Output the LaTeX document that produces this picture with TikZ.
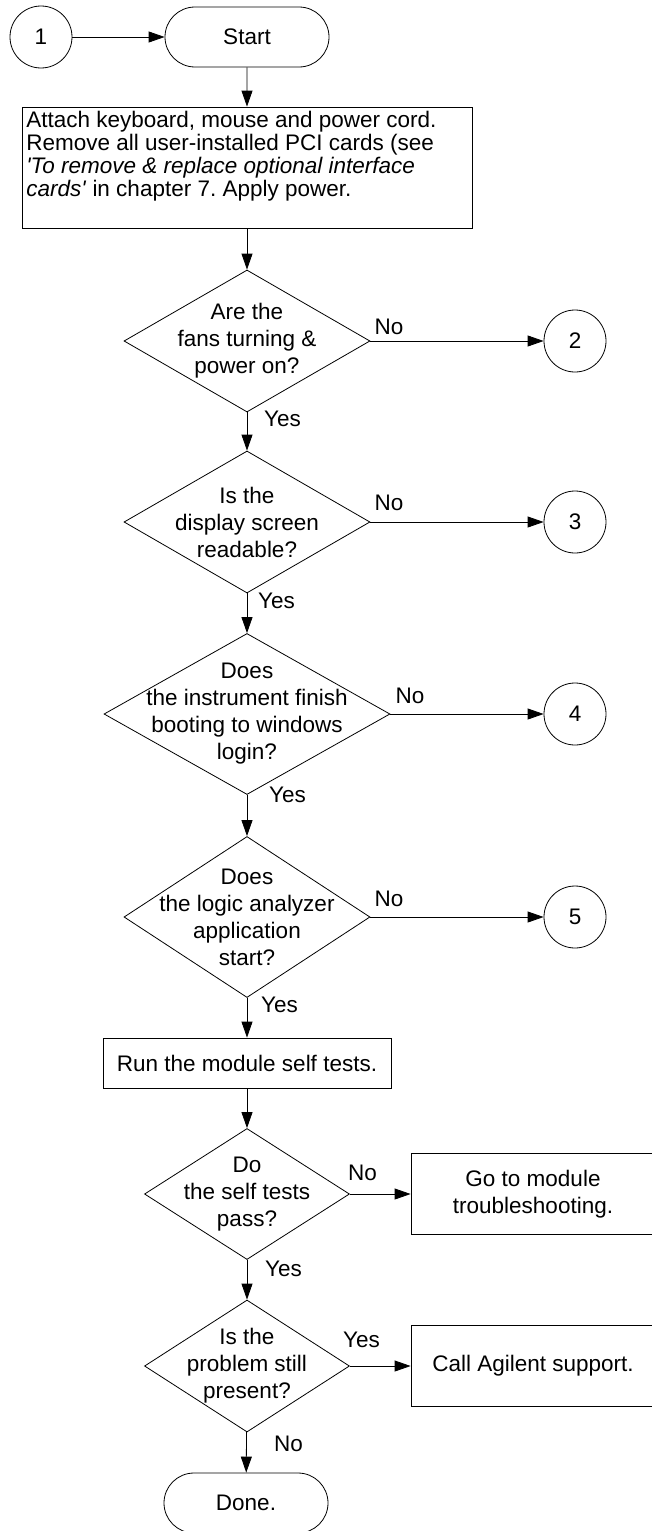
\documentclass[tikz,border=0pt]{standalone}
\usepackage{fontspec}
\setmainfont{Liberation Sans}
\usetikzlibrary{shapes.geometric,shapes.misc,arrows.meta,positioning}
\frenchspacing

\begin{document}
\begin{tikzpicture}[x=1pt,y=-1pt,
    every node/.style={font=\fontsize{22.5}{27}\selectfont},
    outline/.style={draw,line width=0.8pt},
    term/.style={outline,rounded rectangle,minimum width=164pt,minimum height=60pt,inner sep=0pt},
    conn/.style={outline,circle,minimum size=62pt,inner sep=0pt},
    proc/.style={outline,rectangle,inner sep=0pt,align=center},
    decision/.style={outline,diamond,inner sep=0pt},
    qtext/.style={align=center,inner sep=0pt},
    lbl/.style={inner sep=0pt},
    arr/.style={line width=0.8pt,-{Triangle[length=16pt,width=11pt]}}]
    \useasboundingbox (0,0) rectangle (651,1531);
    % main column
    \node[conn] (c1) at (41,37) {1};
    \node[term] (start) at (247,37) {Start};
    \node[proc,minimum width=450pt,minimum height=121pt,
      label={[qtext,align=left,anchor=north west,inner sep=4.5pt,
        font=\fontsize{22.5}{23}\selectfont]north west:{%
        Attach keyboard, mouse and power cord.\\
        Remove all user-installed PCI cards (see\\
        \textit{\textquotesingle To remove \& replace optional interface}\\
        \textit{cards\textquotesingle} in chapter 7. Apply power.}}]
      (attach) at (247,167.5) {};
    \node[decision,minimum width=246pt,minimum height=142pt,
      label={[qtext]center:{Are the\\fans turning \&\\power on?}}] (fans) at (247,341) {};
    \node[decision,minimum width=246pt,minimum height=142pt,
      label={[qtext]center:{Is the\\display screen\\readable?}}] (disp) at (247,522) {};
    \node[decision,minimum width=286pt,minimum height=161pt,
      label={[qtext]center:{Does\\the instrument finish\\booting to windows\\login?}}] (boot) at (247,714) {};
    \node[decision,minimum width=246pt,minimum height=161pt,
      label={[qtext]center:{Does\\the logic analyzer\\application\\start?}}] (app) at (247,917) {};
    \node[proc,minimum width=288pt,minimum height=50pt] (selftest) at (247,1063) {Run the module self tests.};
    \node[decision,minimum width=205pt,minimum height=131pt,
      label={[qtext]center:{Do\\the self tests\\pass?}}] (pass) at (247,1194) {};
    \node[decision,minimum width=205pt,minimum height=132pt,
      label={[qtext]center:{Is the\\problem still\\present?}}] (still) at (247,1366) {};
    \node[term] (done) at (246,1503) {Done.};
    % off-page connectors and side boxes
    \node[conn] (c2) at (575,341) {2};
    \node[conn] (c3) at (575,522) {3};
    \node[conn] (c4) at (575,714) {4};
    \node[conn] (c5) at (575,917) {5};
    \node[proc,minimum width=244pt,minimum height=81pt] (modts) at (533,1194) {Go to module\\troubleshooting.};
    \node[proc,minimum width=244pt,minimum height=81pt] (agilent) at (533,1366) {Call Agilent support.};
    % connectors
    \draw[arr] (c1) -- (start);
    \draw[arr] (start) -- (attach);
    \draw[arr] (attach) -- (fans);
    \draw[arr] (fans) -- (disp);
    \draw[arr] (disp) -- (boot);
    \draw[arr] (boot) -- (app);
    \draw[arr] (app) -- (selftest);
    \draw[arr] (selftest) -- (pass);
    \draw[arr] (pass) -- (still);
    \draw[arr] (still) -- (done);
    \draw[arr] (fans.east) -- (c2);
    \draw[arr] (disp.east) -- (c3);
    \draw[arr] (boot.east) -- (c4);
    \draw[arr] (app.east) -- (c5);
    \draw[arr] (pass.east) -- (modts);
    \draw[arr] (still.east) -- (agilent);
    % branch labels
    \node[lbl,anchor=south west] (no1) at ([shift={(4,-6)}]fans.east) {No};
    \node[lbl,anchor=south west] (no2) at ([shift={(4,-11)}]disp.east) {No};
    \node[lbl,anchor=south west] (no3) at ([shift={(5,-10)}]boot.east) {No};
    \node[lbl,anchor=south west] (no4) at ([shift={(4,-10)}]app.east) {No};
    \node[lbl,anchor=south west] (no5) at ([shift={(-2,-13)}]pass.east) {No};
    \node[lbl,anchor=south west] (yes6) at ([shift={(-7,-18)}]still.east) {Yes};
    \node[lbl,anchor=north west] (yes1) at ([shift={(17,-2)}]fans.south) {Yes};
    \node[lbl,anchor=north west] (yes2) at ([shift={(11,-1)}]disp.south) {Yes};
    \node[lbl,anchor=north west] (yes3) at ([shift={(22,-8)}]boot.south) {Yes};
    \node[lbl,anchor=north west] (yes4) at ([shift={(14,-1)}]app.south) {Yes};
    \node[lbl,anchor=north west] (yes5) at ([shift={(18,1)}]pass.south) {Yes};
    \node[lbl,anchor=north west] (no6) at ([shift={(27,3)}]still.south) {No};
\end{tikzpicture}
\end{document}
